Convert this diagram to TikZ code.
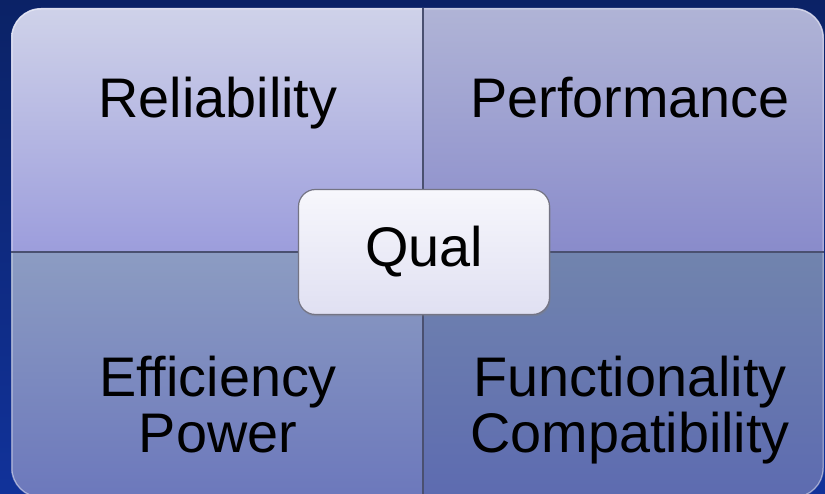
\documentclass[tikz,border=0pt]{standalone}
\usepackage{fontspec}
\setmainfont{Liberation Sans}
\usetikzlibrary{shadows}

\definecolor{bgtop}{HTML}{0B2266}
\definecolor{bgbot}{HTML}{11329A}
\definecolor{tltop}{HTML}{CFD2E9}
\definecolor{tlbot}{HTML}{9C9DDC}
\definecolor{trtop}{HTML}{B0B4D6}
\definecolor{trbot}{HTML}{898BCB}
\definecolor{bltop}{HTML}{8C9CC2}
\definecolor{blbot}{HTML}{6C78BC}
\definecolor{brtop}{HTML}{7184AE}
\definecolor{brbot}{HTML}{5D6BB0}
\definecolor{divgray}{HTML}{4A5070}
\definecolor{qualtop}{HTML}{F7F7FC}
\definecolor{qualbot}{HTML}{E0E0F2}
\definecolor{qualedge}{HTML}{747484}

\begin{document}
\begin{tikzpicture}[x=1pt,y=-1pt,
  quadtext/.style={align=center,anchor=base,inner sep=0pt,
    font=\fontsize{55.8}{56}\selectfont},
  divider/.style={draw=divgray,line width=2.4pt},
  qualbox/.style={draw=qualedge,line width=1.2pt,rounded corners=17pt,
    top color=qualtop,bottom color=qualbot,minimum width=251pt,
    minimum height=125pt,inner sep=0pt,font=\fontsize{55.8}{56}\selectfont,
    drop shadow={shadow xshift=1pt,shadow yshift=-2pt,opacity=0.35}}]

\useasboundingbox (0,0) rectangle (825,494);

% Background
\shade[top color=bgtop,bottom color=bgbot] (0,0) rectangle (825,494);

%%%%%%%%%%%%%%%%%%%%%%%%%%%%%%%%%%%%%%%%%%%%%%%%%%%%%%%%%%%%%%%%
% Quadrants
%%%%%%%%%%%%%%%%%%%%%%%%%%%%%%%%%%%%%%%%%%%%%%%%%%%%%%%%%%%%%%%%

\begin{scope}
\clip[rounded corners=30pt] (11,8) rectangle (824,498);
\shade[top color=tltop,bottom color=tlbot] (11,8) rectangle (423,252);
\shade[top color=trtop,bottom color=trbot] (423,8) rectangle (824,252);
\shade[top color=bltop,bottom color=blbot] (11,252) rectangle (423,498);
\shade[top color=brtop,bottom color=brbot] (423,252) rectangle (824,498);
\end{scope}

% Border
\draw[white,opacity=0.45,line width=1pt,rounded corners=29pt] (12,9) rectangle (823,497);

% Dividers
\draw[divider] (423,8) -- (423,498);
\draw[divider] (11,252) -- (824,252);

% Labels
\node[quadtext] (rel) at (218,118) {Reliability};
\node[quadtext] (perf) at (630,118) {Performance};
\node[quadtext] (eff) at (218,452) {Efficiency\\Power};
\node[quadtext] (func) at (630,452) {Functionality\\Compatibility};

%%%%%%%%%%%%%%%%%%%%%%%%%%%%%%%%%%%%%%%%%%%%%%%%%%%%%%%%%%%%%%%%
% Centre
%%%%%%%%%%%%%%%%%%%%%%%%%%%%%%%%%%%%%%%%%%%%%%%%%%%%%%%%%%%%%%%%

\node[qualbox] (qual) at (424,252) {Qual};

\end{tikzpicture}
\end{document}
